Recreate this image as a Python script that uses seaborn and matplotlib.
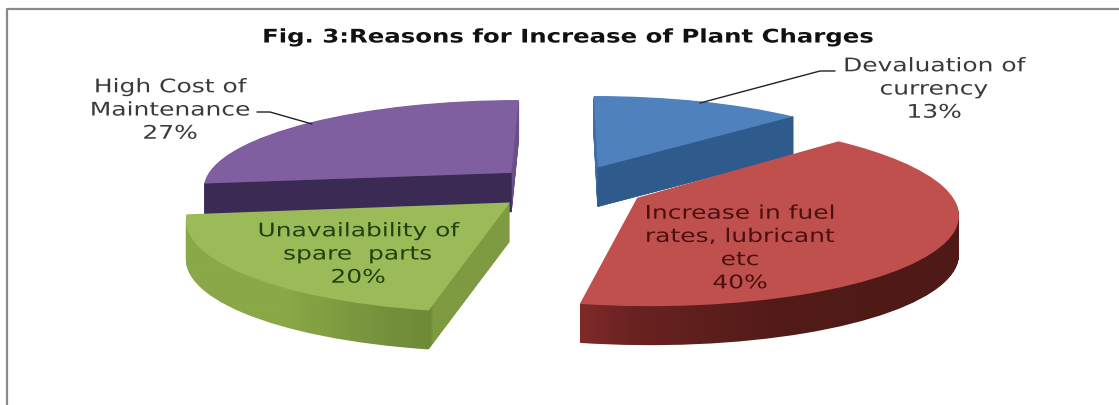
import numpy as np
import matplotlib
matplotlib.use("Agg")
import matplotlib.pyplot as plt
import matplotlib.patheffects as pe
from matplotlib.colors import to_rgb
from matplotlib.path import Path
from matplotlib.patches import PathPatch
from matplotlib.transforms import Affine2D
import seaborn as sns

# Chart values
categories = ["Devaluation of\ncurrency", "Increase in fuel\nrates, lubricant\netc",
              "Unavailability of\nspare  parts", "High Cost of\nMaintenance"]
shares = [13, 40, 20, 27]
title = "Fig. 3:Reasons for Increase of Plant Charges"

# Styling
top_colors = ["#4f81bd", "#c0504d", "#9bbb59", "#7f5f9f"]
wall_colors = ["#3f6ea6", "#5c1f1d", "#7f9b41", "#6a5088"]
cut_colors = ["#2f5a8c", None, None, "#3b2a53"]
wall_ramps = [None,
              [(581, "#7f2a29"), (631, "#6a2321"), (774, "#521b18"), (950, "#4e1916")],
              [(193, "#8ba848"), (285, "#8aa845"), (393, "#748f3c"), (430, "#6f8b38"),
               (433, "#7f9b41")],
              None]
text_colors = ["#3a3a3a", "#4a1010", "#24400f", "#3a3a3a"]
label_xy = [(934, 88), (740, 247), (358, 253), (170, 109)]
draw_order = [3, 0, 2, 1]
explode_frac = 0.25
depth_px = 39


class WideText(pe.AbstractPathEffect):
    """Stretches text horizontally about a fixed pixel column."""

    def __init__(self, center_x, factor):
        super().__init__()
        self.center_x = center_x
        self.factor = factor

    def draw_path(self, renderer, gc, tpath, affine, rgbFace=None):
        wide = Affine2D().translate(-self.center_x, 0).scale(self.factor, 1).translate(self.center_x, 0)
        renderer.draw_path(gc, tpath, affine + wide, rgbFace)


sns.set_theme(style="white")
plt.rcParams["font.family"] = ["DejaVu Sans"]

fig, ax = plt.subplots(figsize=(11.19, 4.05), dpi=100)
fig.patch.set_facecolor("white")
ax.set_position([0, 0, 1, 1])

wedges, _ = ax.pie(shares, explode=[explode_frac] * len(shares), startangle=90,
                   counterclock=False, radius=1, frame=False)


def project(xy):
    """Tilted perspective view of the pie plane, in figure pixels."""
    xy = np.atleast_2d(xy)
    w = 1 + 0.154 * xy[:, 1]
    return np.column_stack([568 + 310 * xy[:, 0] / w, 187 - 88 * xy[:, 1] / w])


faces, rims = [], []
for wedge in wedges:
    src = wedge.get_path()
    verts = wedge.get_patch_transform().transform(src.vertices)
    faces.append((project(verts), src.codes))
    # Slice centre and the arc end nearest the viewer, for the cut face
    cx, cy = wedge.center
    ends = [np.array([cx + wedge.r * np.cos(np.radians(a)), cy + wedge.r * np.sin(np.radians(a))])
            for a in (wedge.theta1, wedge.theta2)]
    front = min(ends, key=lambda p: p[1])
    rims.append((project([cx, cy])[0], project(front)[0]))
    wedge.remove()

ax.set_aspect("auto")
ax.axis("off")


def ramp_image(stops):
    xs = np.arange(0, 1119)
    pos = [s[0] for s in stops]
    rgb = np.array([to_rgb(s[1]) for s in stops])
    return np.stack([np.interp(xs, pos, rgb[:, c]) for c in range(3)], axis=-1)[None, :, :]


# Solid slices: stacked copies form the wall, the top face goes last
for z, i in enumerate(draw_order):
    verts, codes = faces[i]
    layers = [Path(verts + [0, d], codes) for d in range(depth_px, 0, -1)]
    if wall_ramps[i] is None:
        for layer in layers:
            ax.add_patch(PathPatch(layer, fc=wall_colors[i], ec=wall_colors[i], lw=0.6, zorder=2 + z))
    else:
        img = ax.imshow(ramp_image(wall_ramps[i]), extent=(0, 1119, 405, 0), aspect="auto",
                        interpolation="bilinear", zorder=2 + z)
        img.set_clip_path(Path.make_compound_path(*layers), ax.transData)
    if cut_colors[i] is not None:
        apex, front = rims[i]
        quad = np.array([front, apex, apex + [0, depth_px], front + [0, depth_px]])
        ax.fill(quad[:, 0], quad[:, 1], color=cut_colors[i], lw=0.4, zorder=2 + z)
    ax.add_patch(PathPatch(Path(verts, codes), fc=top_colors[i], ec="none", zorder=2 + z))

ax.set_xlim(0, 1119)
ax.set_ylim(405, 0)

# Data labels
for name, share, (x, y), tc in zip(categories, shares, label_xy, text_colors):
    label = ax.text(x, y + 1, f"{name}\n{share}%", ha="center", va="center", fontsize=13.5,
                    color=tc, linespacing=1.28, zorder=10)
    label.set_path_effects([WideText(x, 1.33)])

# Leader lines
ax.plot([257, 270, 312], [112, 112, 124], color="#222222", lw=1, zorder=9)
ax.plot([835, 820, 700], [71, 71, 103], color="#222222", lw=1, zorder=9)

heading = ax.text(568, 37, title, ha="center", va="center", fontsize=13.5, fontweight="bold",
                  color="#111111", zorder=10)
heading.set_path_effects([WideText(568, 1.30)])

# Chart area border
ax.plot([7, 7, 1119], [405, 9, 9], color="#8a8a8a", lw=1.6, zorder=1, clip_on=False)

fig.savefig("out.png", dpi=100, facecolor="white")
